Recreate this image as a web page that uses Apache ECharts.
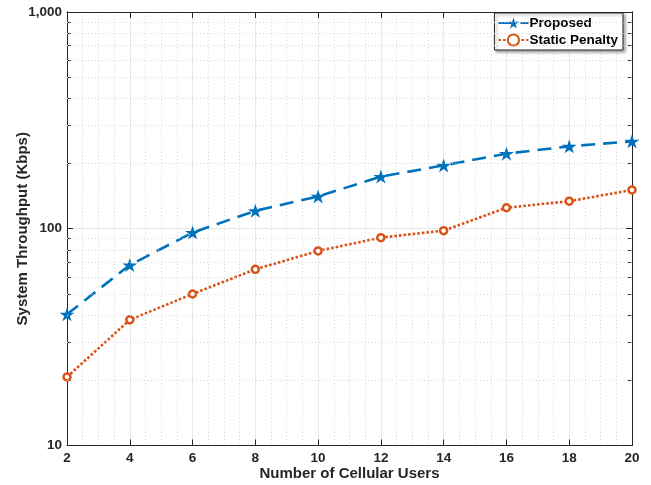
<!DOCTYPE html>
<html><head><meta charset="utf-8">
<script src="https://cdn.jsdelivr.net/npm/echarts@6/dist/echarts.min.js"></script>
<style>html,body{margin:0;padding:0;background:#fff}#c{width:651px;height:485px}</style>
</head><body><div id="c"></div>
<script>
const users = [2, 4, 6, 8, 10, 12, 14, 16, 18, 20];
const proposed = [40.3, 68, 96, 121, 141, 174, 196, 222, 240, 253];
const staticPenalty = [20.7, 38, 50, 65, 79, 91, 98, 125, 134, 151];
const yTickValues = [10, 100, 1000];
const yTickLabels = ['10', '100', '1,000'];
const yMinorValues = [20, 30, 40, 50, 60, 70, 80, 90, 200, 300, 400, 500, 600, 700, 800, 900];
const seriesNames = ['Proposed', 'Static Penalty'];

const FONT = "'Liberation Sans', Arial, sans-serif";
const AX = '#262626';
const MINOR = '#d6d6d6';
const STAR = 'path://M50 0 L61.23 34.55 L97.55 34.55 L68.16 55.9 L79.39 90.45 L50 69.1 L20.61 90.45 L31.84 55.9 L2.45 34.55 L38.77 34.55 Z';

const chart = echarts.init(document.getElementById('c'), null, {renderer: 'canvas'});

function yBase(extra) {
  return Object.assign({
    type: 'log', logBase: 10, min: 10, max: 1000, gridIndex: 0,
    axisLine: {show: true, lineStyle: {color: AX, width: 1}},
    axisTick: {show: false},
    axisLabel: {show: false},
    splitLine: {show: false}
  }, extra);
}

const option = {
  backgroundColor: '#fff',
  animation: false,
  grid: {left: 67, right: 19, top: 12, bottom: 39.5, containLabel: false, outerBoundsMode: 'none'},
  xAxis: [
    {
      type: 'value', min: 2, max: 20, interval: 2, position: 'bottom',
      name: 'Number of Cellular Users', nameLocation: 'middle', nameGap: 21, nameMoveOverlap: false,
      nameTextStyle: {fontFamily: FONT, fontWeight: 'bold', fontSize: 15, color: AX},
      axisLine: {show: true, onZero: false, lineStyle: {color: AX, width: 1}},
      axisTick: {show: true, inside: true, length: 6, lineStyle: {color: AX}},
      axisLabel: {fontFamily: FONT, fontWeight: 'bold', fontSize: 13.5, color: AX, margin: 6},
      splitLine: {show: true, lineStyle: {color: '#e8e8e8', width: 1}},
      minorTick: {show: false, splitNumber: 4},
      minorSplitLine: {show: true, lineStyle: {color: MINOR, width: 1, type: [1, 2.5]}}
    },
    {
      type: 'value', min: 2, max: 20, interval: 2, position: 'top',
      axisLine: {show: true, onZero: false, lineStyle: {color: AX, width: 1}},
      axisTick: {show: true, inside: true, length: 6, lineStyle: {color: AX}},
      axisLabel: {show: false},
      splitLine: {show: false}
    }
  ],
  yAxis: [
    yBase({
      position: 'left',
      name: 'System Throughput (Kbps)', nameLocation: 'middle', nameGap: 37, nameRotate: 90, nameMoveOverlap: false,
      nameTextStyle: {fontFamily: FONT, fontWeight: 'bold', fontSize: 15, color: AX},
      axisTick: {show: true, inside: true, length: 6, lineStyle: {color: AX}},
      axisLabel: {show: true, fontFamily: FONT, fontWeight: 'bold', fontSize: 13.5, color: AX, margin: 5,
        customValues: yTickValues,
        formatter: function (v) { const i = yTickValues.indexOf(Math.round(v)); return i >= 0 ? yTickLabels[i] : ''; }},
      splitLine: {show: true, lineStyle: {color: '#e8e8e8', width: 1}}
    }),
    yBase({
      position: 'left',
      axisTick: {show: true, inside: true, length: 4, customValues: yMinorValues, lineStyle: {color: AX}}
    }),
    yBase({
      position: 'right',
      axisTick: {show: true, inside: true, length: 6, lineStyle: {color: AX}}
    }),
    yBase({
      position: 'right',
      axisTick: {show: true, inside: true, length: 4, customValues: yMinorValues, lineStyle: {color: AX}}
    })
  ],
  legend: {
    orient: 'vertical', right: 28, top: 13,
    padding: [3, 5, 3, 3], itemGap: 3, itemWidth: 30, itemHeight: 14,
    backgroundColor: '#fff', borderColor: AX, borderWidth: 1,
    shadowColor: 'rgba(0,0,0,0.35)', shadowBlur: 3, shadowOffsetX: 2, shadowOffsetY: 2,
    textStyle: {fontFamily: FONT, fontWeight: 'bold', fontSize: 13.5, color: '#000', padding: [0, 0, 0, -4]},
    data: seriesNames
  },
  series: [
    {
      name: '__minorGrid', type: 'line', xAxisIndex: 0, yAxisIndex: 0, data: [],
      silent: true, z: 0,
      markLine: {
        silent: true, symbol: 'none', label: {show: false}, animation: false,
        lineStyle: {color: MINOR, width: 1, type: [1, 2.5]},
        emphasis: {disabled: true},
        data: yMinorValues.map(v => ({yAxis: v}))
      }
    },
    {
      name: seriesNames[0], type: 'line', xAxisIndex: 0, yAxisIndex: 0,
      data: users.map((u, i) => [u, proposed[i]]),
      symbol: STAR, symbolSize: [15, 14], showAllSymbol: true,
      lineStyle: {color: '#0072BD', width: 2.6, type: [14, 8]},
      itemStyle: {color: '#0072BD', borderWidth: 0},
      z: 3
    },
    {
      name: seriesNames[1], type: 'line', xAxisIndex: 0, yAxisIndex: 0,
      data: users.map((u, i) => [u, staticPenalty[i]]),
      symbol: 'circle', symbolSize: 7, showAllSymbol: true,
      lineStyle: {color: '#D95319', width: 2.6, type: [2.6, 2]},
      itemStyle: {color: '#ffffff', borderColor: '#D95319', borderWidth: 2.5},
      z: 2
    }
  ]
};
chart.setOption(option);
</script></body></html>
